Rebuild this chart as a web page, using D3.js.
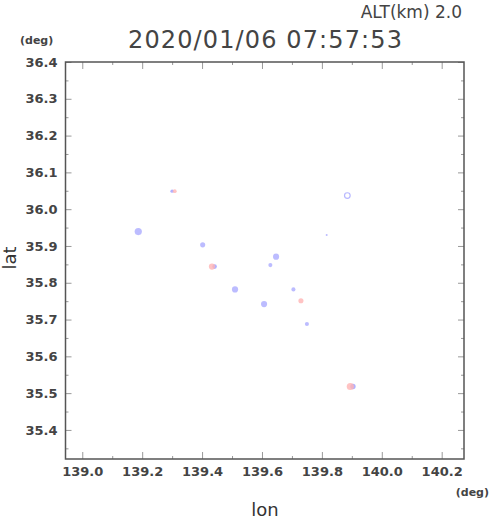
<!DOCTYPE html>
<html>
<head>
<meta charset="utf-8">
<script src="https://cdn.jsdelivr.net/npm/d3@7"></script>
<style>
  body { margin: 0; background: #fff; }
  text { font-family: "DejaVu Sans", sans-serif; }
</style>
</head>
<body>
<svg id="chart"></svg>
<script>
const width = 490,
  height = 521;

// event list
const lons = [139.306, 139.187, 139.402, 139.435, 139.510, 139.885, 139.816,
  139.647, 139.628, 139.705, 139.607, 139.730, 139.750, 139.897];
const lats = [36.049, 35.939, 35.903, 35.844, 35.782, 36.037, 35.930,
  35.871, 35.848, 35.782, 35.742, 35.751, 35.688, 35.518];
const kinds = ["bp", "b", "b", "pb", "b", "ring", "b", "b", "b", "b", "b", "p", "b", "pb"];
const mags = [2.0, 3.0, 2.2, 2.6, 2.6, 2.4, 1.0, 2.6, 1.8, 1.8, 2.6, 2.2, 1.8, 3.0];

const lonTicks = [139.0, 139.2, 139.4, 139.6, 139.8, 140.0, 140.2];
const latTicks = [35.4, 35.5, 35.6, 35.7, 35.8, 35.9, 36.0, 36.1, 36.2, 36.3, 36.4];
const title = "2020/01/06 07:57:53";
const altLabel = "ALT(km) 2.0";

const box = { left: 65.5, right: 464, top: 62, bottom: 459 };

let x = d3.scaleLinear()
  .domain([138.944, 140.2745])
  .range([box.left, box.right]);
let y = d3.scaleLinear()
  .domain([35.321, 36.4])
  .range([box.bottom, box.top]);
let r = d3.scaleLinear()
  .domain([1, 3])
  .range([1, 3.6]);

let chart = d3.select("#chart")
  .attr("width", width)
  .attr("height", height);

const tickColor = "#999",
  lineColor = "#555",
  textColor = "#444";

let minorLon = d3.range(139.0, 140.25, 0.1).filter(v => !lonTicks.some(t => Math.abs(t - v) < 1e-6));
let minorLat = d3.range(35.35, 36.4, 0.1);

// axes, ticks pointing inward
let axBottom = d3.axisBottom(x).tickValues(lonTicks).tickSize(-7).tickFormat(d3.format(".1f"));
let axTop = d3.axisTop(x).tickValues(lonTicks).tickSize(-7).tickFormat("");
let axLeft = d3.axisLeft(y).tickValues(latTicks).tickSize(-6).tickFormat(d3.format(".1f"));
let axRight = d3.axisRight(y).tickValues(latTicks).tickSize(-6).tickFormat("");

function styleAxis(g) {
  g.select(".domain").remove();
  g.selectAll(".tick line").attr("stroke", tickColor);
  g.selectAll(".tick text")
    .attr("fill", textColor)
    .style("font-size", "13px")
    .style("font-weight", "bold");
}

chart.append("g").attr("transform", `translate(0,${box.bottom})`).call(axBottom).call(styleAxis)
  .selectAll(".tick text").attr("y", 8);
chart.append("g").attr("transform", `translate(0,${box.top})`).call(axTop).call(styleAxis);
chart.append("g").attr("transform", `translate(${box.left},0)`).call(axLeft).call(styleAxis)
  .selectAll(".tick text").attr("x", -8);
chart.append("g").attr("transform", `translate(${box.right},0)`).call(axRight).call(styleAxis);

// minor ticks
chart.append("g").attr("transform", `translate(0,${box.bottom})`)
  .call(d3.axisBottom(x).tickValues(minorLon).tickSize(-3).tickFormat("")).call(styleAxis);
chart.append("g").attr("transform", `translate(0,${box.top})`)
  .call(d3.axisTop(x).tickValues(minorLon).tickSize(-3).tickFormat("")).call(styleAxis);
chart.append("g").attr("transform", `translate(${box.left},0)`)
  .call(d3.axisLeft(y).tickValues(minorLat).tickSize(-3).tickFormat("")).call(styleAxis);
chart.append("g").attr("transform", `translate(${box.right},0)`)
  .call(d3.axisRight(y).tickValues(minorLat).tickSize(-3).tickFormat("")).call(styleAxis);

chart.append("rect")
  .attr("x", box.left).attr("y", box.top)
  .attr("width", box.right - box.left).attr("height", box.bottom - box.top)
  .attr("fill", "none")
  .attr("stroke", lineColor)
  .attr("stroke-width", 1.5);

// events
let data = lons.map((lon, i) => ({ lon, lat: lats[i], kind: kinds[i], mag: mags[i] }));
let pts = chart.append("g").selectAll("g")
  .data(data)
  .enter().append("g")
  .attr("transform", d => `translate(${x(d.lon)},${y(d.lat)})`);

// blue part peeking out behind the pink ones
pts.filter(d => d.kind === "pb" || d.kind === "bp")
  .append("circle")
  .attr("cx", d => d.kind === "pb" ? 2 : -1.8)
  .attr("r", d => r(d.mag) * 0.75)
  .attr("fill", "#9090ff")
  .attr("fill-opacity", 0.7);

pts.append("circle")
  .attr("r", d => d.kind === "bp" ? r(d.mag) * 0.85 : r(d.mag))
  .attr("cx", d => d.kind === "bp" ? 0.8 : (d.kind === "pb" ? -0.6 : 0))
  .attr("fill", d => {
    if (d.kind === "ring") return "none";
    return d.kind === "b" ? "#a0a0ff" : "#ffb4b4";
  })
  .attr("fill-opacity", d => d.kind === "b" ? 0.7 : 0.8)
  .attr("stroke", d => d.kind === "ring" ? "#b8b8ff" : "none")
  .attr("stroke-width", 1.2);

// labels
chart.append("text")
  .attr("x", 462).attr("y", 18)
  .attr("text-anchor", "end")
  .attr("fill", textColor)
  .style("font-size", "17px")
  .text(altLabel);

chart.append("text")
  .attr("x", 128).attr("y", 48)
  .attr("fill", textColor)
  .attr("textLength", 274)
  .style("font-size", "24px")
  .text(title);

chart.append("text")
  .attr("x", 20).attr("y", 44)
  .attr("fill", textColor)
  .style("font-size", "11px")
  .style("font-weight", "bold")
  .text("(deg)");

chart.append("text")
  .attr("x", 489).attr("y", 496)
  .attr("text-anchor", "end")
  .attr("fill", textColor)
  .style("font-size", "11px")
  .style("font-weight", "bold")
  .text("(deg)");

chart.append("text")
  .attr("transform", "translate(16,258) rotate(-90)")
  .attr("text-anchor", "middle")
  .attr("fill", "#333")
  .style("font-size", "18px")
  .text("lat");

chart.append("text")
  .attr("x", 265).attr("y", 516)
  .attr("text-anchor", "middle")
  .attr("fill", "#333")
  .style("font-size", "18px")
  .text("lon");
</script>
</body>
</html>
